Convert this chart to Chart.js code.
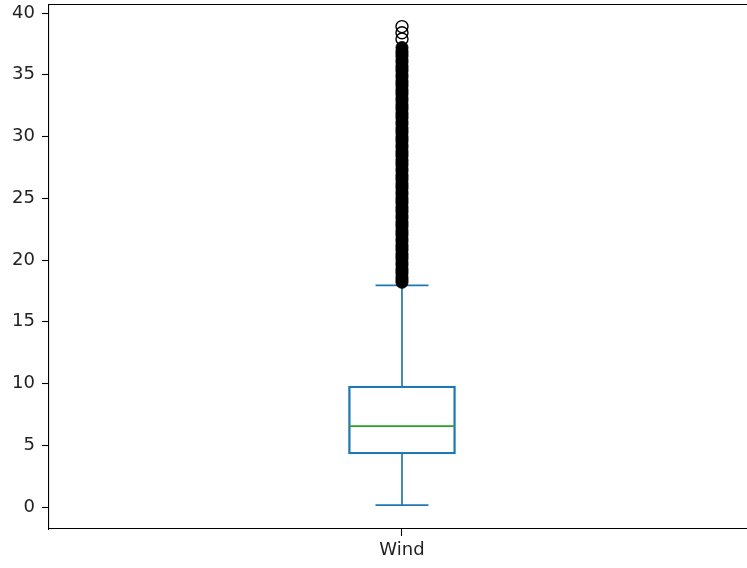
<!DOCTYPE html>
<html>
<head>
<meta charset="utf-8">
<script src="https://cdn.jsdelivr.net/npm/chart.js@4.4.1/dist/chart.umd.min.js"></script>
<style>
  html, body { margin: 0; padding: 0; background: #fff; }
  #wrap { width: 747px; height: 568px; }
</style>
</head>
<body>
<div id="wrap"><canvas id="chart" width="747" height="568"></canvas></div>
<script>
// box plot summary for "Wind"
const categories = ['Wind'];
const q1 = 4.3;
const median = 6.55;
const q3 = 9.8;
const whiskerLow = 0.15;
const whiskerHigh = 17.95;

// fliers, the lower part is so dense that it prints solid black
const denseFliers = [
  18.2, 18.4, 18.6, 18.9, 19.1, 19.3, 19.6, 19.8, 20.1, 20.3, 20.5, 20.8,
  21.0, 21.2, 21.5, 21.7, 22.0, 22.2, 22.4, 22.7, 22.9, 23.1, 23.4, 23.6,
  23.9, 24.1, 24.3, 24.6, 24.8, 25.0, 25.3, 25.5, 25.8, 26.0, 26.2, 26.5,
  26.7, 26.9, 27.2, 27.4, 27.7, 27.9, 28.1, 28.4, 28.6, 28.8, 29.1, 29.3,
  29.6, 29.8, 30.0, 30.3, 30.5, 30.7, 31.0, 31.2, 31.5, 31.7, 31.9, 32.2,
  32.4, 32.6, 32.9, 33.1, 33.4, 33.6, 33.8, 34.1, 34.3, 34.5, 34.8, 35.0,
  35.3, 35.5, 35.7, 36.0, 36.2, 36.5, 36.7, 36.9, 37.2
];
const sparseFliers = [37.9, 38.4, 38.9];

const yTicks = [0, 5, 10, 15, 20, 25, 30, 35, 40];

const boxWidth = 0.15;
const pos = 1;
const blue = '#1f77b4';
const green = '#2ca02c';

function seg(x0, x1, y0, y1) {
  return [{x: x0, y: y0}, {x: x1, y: y1}];
}

function lineSet(pts, color) {
  return {
    type: 'line',
    data: pts,
    xAxisID: 'x',
    borderColor: color,
    borderWidth: 1.7,
    pointRadius: 0,
    fill: false,
    tension: 0,
    order: 2
  };
}

const half = boxWidth / 2;
const capHalf = boxWidth / 4;

const datasets = [
  {
    type: 'bar',
    xAxisID: 'x',
    data: [{x: pos, y: [q1, q3]}],
    backgroundColor: 'rgba(0,0,0,0)',
    borderColor: blue,
    borderWidth: 1.7,
    borderSkipped: false,
    barThickness: 107,
    order: 3
  },
  lineSet(seg(pos - half, pos + half, median, median), green),
  lineSet(seg(pos, pos, whiskerLow, q1), blue),
  lineSet(seg(pos, pos, q3, whiskerHigh), blue),
  lineSet(seg(pos - capHalf, pos + capHalf, whiskerLow, whiskerLow), blue),
  lineSet(seg(pos - capHalf, pos + capHalf, whiskerHigh, whiskerHigh), blue),
  {
    type: 'scatter',
    xAxisID: 'x',
    data: denseFliers.map(v => ({x: pos, y: v})),
    pointRadius: 6,
    pointBackgroundColor: '#000',
    pointBorderColor: '#000',
    pointBorderWidth: 1,
    order: 1
  },
  {
    type: 'scatter',
    xAxisID: 'x',
    data: sparseFliers.map(v => ({x: pos, y: v})),
    pointRadius: 6,
    pointBackgroundColor: 'rgba(0,0,0,0)',
    pointBorderColor: '#000',
    pointBorderWidth: 1.4,
    order: 0
  }
];

const font = {family: 'DejaVu Sans', size: 18};
const textColor = '#222';

new Chart(document.getElementById('chart'), {
  data: {datasets: datasets},
  options: {
    responsive: false,
    animation: false,
    layout: {padding: 0, autoPadding: false},
    plugins: {
      legend: {display: false},
      tooltip: {enabled: false}
    },
    scales: {
      x: {
        type: 'linear',
        position: 'bottom',
        offset: false,
        min: 0.5,
        max: 1.4887,
        afterBuildTicks: (s) => { s.ticks = [{value: pos}]; },
        afterFit: (s) => { s.height = 39; s.paddingLeft = 0; s.paddingRight = 0; },
        ticks: {
          color: textColor,
          font: font,
          padding: 4,
          maxRotation: 0,
          autoSkip: false,
          callback: (v) => v === pos ? categories[0] : ''
        },
        grid: {
          display: true,
          drawOnChartArea: false,
          drawTicks: true,
          tickLength: 7,
          tickWidth: 1.1,
          offset: false,
          tickColor: (ctx) => (ctx.tick && ctx.tick.value === pos) ? '#000' : 'rgba(0,0,0,0)'
        },
        border: {display: true, color: '#000', width: 1.1}
      },
      xTop: {
        type: 'linear',
        position: 'top',
        offset: false,
        min: 0.5,
        max: 1.4887,
        afterFit: (s) => { s.height = 5; s.paddingLeft = 0; s.paddingRight = 0; },
        ticks: {display: false},
        grid: {display: false},
        border: {display: true, color: '#000', width: 1.1}
      },
      y: {
        type: 'linear',
        min: -1.78,
        max: 40.65,
        afterBuildTicks: (s) => { s.ticks = yTicks.map(v => ({value: v})); },
        afterFit: (s) => { s.width = 49; s.paddingTop = 0; s.paddingBottom = 0; },
        ticks: {
          color: textColor,
          font: font,
          padding: 7
        },
        grid: {display: true, drawOnChartArea: false, drawTicks: true, tickLength: 7, tickColor: '#000', tickWidth: 1.1, offset: false},
        border: {display: true, color: '#000', width: 1.1}
      }
    }
  }
});
</script>
</body>
</html>
